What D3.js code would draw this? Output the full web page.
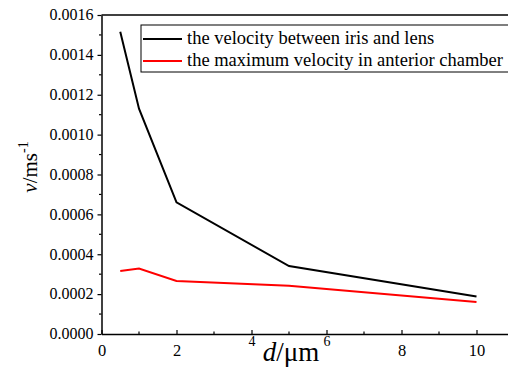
<!DOCTYPE html>
<html>
<head>
<meta charset="utf-8">
<script src="https://cdn.jsdelivr.net/npm/d3@7"></script>
<style>
  body { margin: 0; background: #fff; }
  svg { display: block; }
  svg text { font-family: 'Liberation Serif', 'Times New Roman', serif; }
</style>
</head>
<body>
<svg id="chart" width="508" height="371"></svg>
<script>
// Gap width d (µm)
const gapWidth = [0.5, 1, 2, 5, 10];
// Velocity between iris and lens (m/s)
const irisLensVelocity = [0.001516, 0.00113, 0.00066, 0.000341, 0.000188];
// Maximum velocity in anterior chamber (m/s)
const anteriorMaxVelocity = [0.000316, 0.000328, 0.000266, 0.000242, 0.000161];

const seriesNames = [
  "the velocity between iris and lens",
  "the maximum velocity in anterior chamber"
];
const seriesColors = ["#000000", "#ff0000"];
const yTickValues = [0, 0.0002, 0.0004, 0.0006, 0.0008, 0.0010, 0.0012, 0.0014, 0.0016];
const xTickValues = [0, 2, 4, 6, 8, 10];

const serif = "'Liberation Serif', 'Times New Roman', serif";
const svg = d3.select("#chart");
const plotLeft = 101.5, plotTop = 15, plotBottom = 334;

const x = d3.scaleLinear().domain([0, 11]).range([plotLeft, plotLeft + 11 * 37.5]);
const y = d3.scaleLinear().domain([0, 0.0016]).range([plotBottom, plotTop]);

// frame: top line runs past the right edge
svg.append("line").attr("x1", plotLeft).attr("x2", 520).attr("y1", plotTop).attr("y2", plotTop)
  .attr("stroke", "#000").attr("stroke-width", 1.5);

// y axis with outward ticks
const yAxis = svg.append("g").attr("transform", `translate(${plotLeft},0)`)
  .call(d3.axisLeft(y).tickValues(yTickValues).tickFormat(d3.format(".4f")).tickSize(4).tickSizeOuter(0));
yAxis.select(".domain").attr("stroke-width", 1.5);
yAxis.selectAll(".tick line").attr("stroke-width", 1.2);
yAxis.selectAll("text").attr("fill", "#000").attr("x", -8).attr("dy", "0.3em")
  .style("font-family", serif).style("font-size", "16px");
// y minor ticks
const yMinor = d3.range(0.0001, 0.0016, 0.0002);
svg.append("g").selectAll("line").data(yMinor).join("line")
  .attr("x1", plotLeft - 2.5).attr("x2", plotLeft).attr("y1", d => y(d)).attr("y2", d => y(d))
  .attr("stroke", "#000").attr("stroke-width", 1.2);

// x axis with inward ticks
const xAxis = svg.append("g").attr("transform", `translate(0,${plotBottom})`)
  .call(d3.axisBottom(x).tickValues(xTickValues).tickSize(-4).tickSizeOuter(0).tickPadding(0));
xAxis.select(".domain").attr("stroke-width", 1.5);
xAxis.selectAll(".tick line").attr("stroke-width", 1.2);
xAxis.selectAll("text").attr("fill", "#000")
  .attr("dy", null)
  .attr("y", d => (d === 4 || d === 6) ? 12 : 22)
  .style("font-family", serif)
  .style("font-size", d => (d === 4 || d === 6) ? "14px" : "16.5px");
// x minor ticks
const xMinor = [1, 3, 5, 7, 9];
svg.append("g").selectAll("line").data(xMinor).join("line")
  .attr("x1", d => x(d)).attr("x2", d => x(d)).attr("y1", plotBottom).attr("y2", plotBottom - 2.5)
  .attr("stroke", "#000").attr("stroke-width", 1.2);

// lines
const line = d3.line().x(d => x(d[0])).y(d => y(d[1]));
[irisLensVelocity, anteriorMaxVelocity].forEach((vals, i) => {
  svg.append("path")
    .datum(gapWidth.map((g, j) => [g, vals[j]]))
    .attr("d", line)
    .attr("fill", "none")
    .attr("stroke", seriesColors[i])
    .attr("stroke-width", 2);
});

// axis titles
const yTitle = svg.append("text")
  .attr("transform", "translate(37,167) rotate(-90)")
  .attr("text-anchor", "middle")
  .attr("fill", "#000")
  .style("font-family", serif).style("font-size", "21px");
yTitle.append("tspan").style("font-style", "italic").text("v");
yTitle.append("tspan").text("/ms");
yTitle.append("tspan").style("font-size", "14px").attr("dy", -9).text("-1");

const xTitle = svg.append("text")
  .attr("x", 291).attr("y", 361)
  .attr("text-anchor", "middle")
  .attr("fill", "#000")
  .style("font-family", serif).style("font-size", "27px");
xTitle.append("tspan").style("font-style", "italic").text("d");
xTitle.append("tspan").text("/μm");

// legend
const legend = svg.append("g");
legend.append("rect").attr("x", 141).attr("y", 25).attr("width", 400).attr("height", 47)
  .attr("fill", "#fff").attr("stroke", "#000").attr("stroke-width", 1);
seriesNames.forEach((name, i) => {
  const cy = 39 + i * 22;
  legend.append("line").attr("x1", 143).attr("x2", 182).attr("y1", cy).attr("y2", cy)
    .attr("stroke", seriesColors[i]).attr("stroke-width", 2);
  legend.append("text").attr("x", 187).attr("y", cy + 5)
    .attr("fill", "#000").style("font-family", serif).style("font-size", "18.5px").text(name);
});
</script>
</body>
</html>
